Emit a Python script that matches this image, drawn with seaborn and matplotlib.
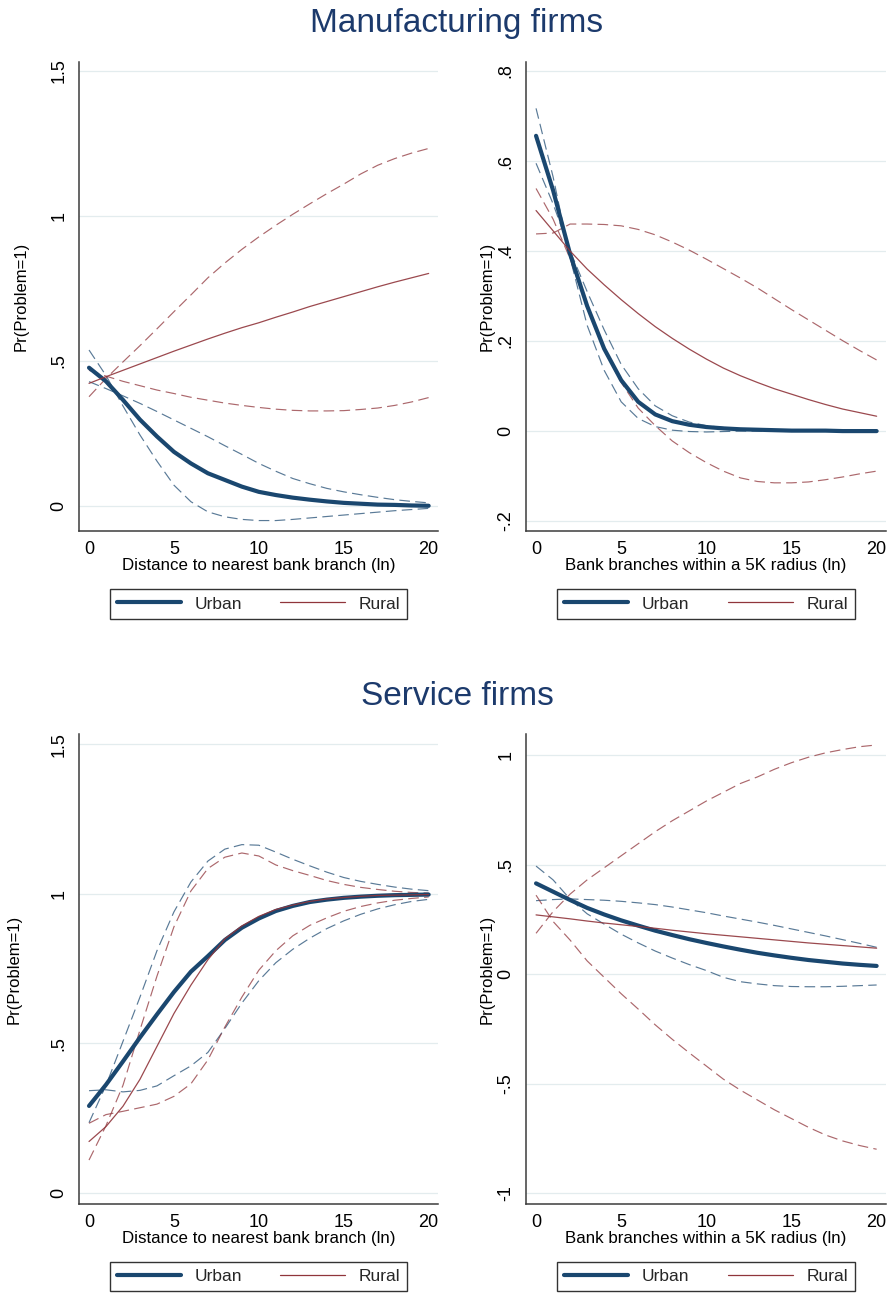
import matplotlib
matplotlib.use("Agg")
import matplotlib.pyplot as plt
from matplotlib.lines import Line2D
import seaborn as sns

# ---- data (x = 0..20) ----
x_vals = list(range(21))

# Manufacturing firms, distance to nearest bank branch
mfg_dist_urban = [0.477, 0.43, 0.366, 0.298, 0.24, 0.187, 0.147, 0.113, 0.09, 0.067, 0.049,
                  0.038, 0.029, 0.022, 0.016, 0.011, 0.008, 0.005, 0.004, 0.002, 0.001]
mfg_dist_urban_ci_a = [0.538, 0.45, 0.345, 0.245, 0.155, 0.072, 0.015, -0.02, -0.037, -0.046, -0.05,
                       -0.05, -0.046, -0.041, -0.036, -0.031, -0.026, -0.021, -0.016, -0.012, -0.008]
mfg_dist_urban_ci_b = [0.429, 0.405, 0.38, 0.354, 0.326, 0.297, 0.268, 0.239, 0.208, 0.178, 0.147,
                       0.12, 0.095, 0.077, 0.061, 0.049, 0.039, 0.03, 0.022, 0.016, 0.011]
mfg_dist_rural = [0.423, 0.446, 0.468, 0.49, 0.512, 0.534, 0.555, 0.576, 0.596, 0.615, 0.632,
                  0.651, 0.669, 0.688, 0.705, 0.722, 0.739, 0.756, 0.772, 0.787, 0.802]
mfg_dist_rural_ci_a = [0.377, 0.44, 0.497, 0.553, 0.611, 0.67, 0.728, 0.787, 0.838, 0.885, 0.928,
                       0.968, 1.006, 1.042, 1.077, 1.11, 1.145, 1.175, 1.198, 1.217, 1.233]
mfg_dist_rural_ci_b = [0.468, 0.448, 0.43, 0.415, 0.4, 0.388, 0.375, 0.365, 0.355, 0.347, 0.34,
                       0.334, 0.33, 0.328, 0.328, 0.329, 0.333, 0.338, 0.347, 0.359, 0.374]

# Manufacturing firms, bank branches within 5K
mfg_br_urban = [0.656, 0.535, 0.393, 0.278, 0.183, 0.113, 0.065, 0.037, 0.022, 0.014, 0.009,
                0.006, 0.004, 0.003, 0.002, 0.001, 0.001, 0.001, 0.0, 0.0, 0.0]
mfg_br_urban_ci_a = [0.717, 0.565, 0.385, 0.235, 0.135, 0.065, 0.028, 0.01, 0.002, -0.001, -0.002,
                     -0.001, 0.0, 0.0, 0.0, 0.0, 0.0, 0.0, 0.0, 0.0, 0.0]
mfg_br_urban_ci_b = [0.595, 0.505, 0.4, 0.31, 0.225, 0.148, 0.094, 0.056, 0.034, 0.02, 0.012,
                     0.008, 0.005, 0.003, 0.002, 0.001, 0.001, 0.001, 0.001, 0.001, 0.001]
mfg_br_rural = [0.49, 0.445, 0.4, 0.36, 0.325, 0.292, 0.261, 0.232, 0.206, 0.182, 0.16,
                0.14, 0.123, 0.108, 0.094, 0.082, 0.07, 0.059, 0.049, 0.041, 0.033]
mfg_br_rural_ci_a = [0.539, 0.471, 0.383, 0.275, 0.18, 0.108, 0.051, 0.012, -0.022, -0.048, -0.07,
                     -0.089, -0.104, -0.112, -0.115, -0.115, -0.113, -0.108, -0.102, -0.095, -0.089]
mfg_br_rural_ci_b = [0.438, 0.44, 0.46, 0.46, 0.459, 0.456, 0.448, 0.436, 0.42, 0.402, 0.382,
                     0.361, 0.34, 0.318, 0.294, 0.27, 0.247, 0.224, 0.201, 0.179, 0.158]

# Service firms, distance to nearest bank branch
srv_dist_urban = [0.291, 0.362, 0.44, 0.52, 0.597, 0.672, 0.74, 0.792, 0.846, 0.887, 0.918,
                  0.943, 0.96, 0.973, 0.981, 0.987, 0.991, 0.994, 0.996, 0.997, 0.998]
srv_dist_urban_ci_a = [0.235, 0.36, 0.507, 0.655, 0.81, 0.94, 1.04, 1.11, 1.15, 1.165, 1.163,
                       1.14, 1.116, 1.094, 1.073, 1.055, 1.042, 1.032, 1.023, 1.016, 1.011]
srv_dist_urban_ci_b = [0.342, 0.345, 0.338, 0.343, 0.358, 0.392, 0.425, 0.47, 0.55, 0.635, 0.71,
                       0.77, 0.815, 0.852, 0.884, 0.91, 0.932, 0.95, 0.964, 0.975, 0.982]
srv_dist_rural = [0.172, 0.222, 0.29, 0.38, 0.49, 0.6, 0.695, 0.78, 0.85, 0.893, 0.925,
                  0.948, 0.963, 0.975, 0.983, 0.988, 0.992, 0.995, 0.996, 0.997, 0.998]
srv_dist_rural_ci_a = [0.11, 0.225, 0.36, 0.545, 0.725, 0.89, 1.01, 1.085, 1.123, 1.137, 1.127,
                       1.097, 1.078, 1.062, 1.045, 1.032, 1.022, 1.015, 1.009, 1.005, 1.003]
srv_dist_rural_ci_b = [0.233, 0.262, 0.273, 0.285, 0.297, 0.323, 0.365, 0.445, 0.555, 0.655, 0.745,
                       0.81, 0.86, 0.895, 0.92, 0.942, 0.958, 0.97, 0.979, 0.985, 0.99]

# Service firms, bank branches within 5K
srv_br_urban = [0.414, 0.376, 0.338, 0.302, 0.272, 0.245, 0.221, 0.198, 0.178, 0.159, 0.142,
                0.126, 0.111, 0.097, 0.085, 0.074, 0.064, 0.056, 0.048, 0.042, 0.037]
srv_br_urban_ci_a = [0.493, 0.43, 0.342, 0.275, 0.228, 0.182, 0.142, 0.105, 0.073, 0.043, 0.016,
                     -0.015, -0.035, -0.045, -0.053, -0.057, -0.058, -0.058, -0.056, -0.053, -0.05]
srv_br_urban_ci_b = [0.335, 0.34, 0.343, 0.34, 0.337, 0.332, 0.325, 0.317, 0.306, 0.293, 0.28,
                     0.265, 0.251, 0.237, 0.222, 0.206, 0.19, 0.174, 0.157, 0.14, 0.122]
srv_br_rural = [0.27, 0.261, 0.252, 0.242, 0.233, 0.225, 0.217, 0.209, 0.2, 0.192, 0.184,
                0.177, 0.17, 0.163, 0.156, 0.149, 0.142, 0.136, 0.13, 0.124, 0.118]
srv_br_rural_ci_a = [0.186, 0.285, 0.365, 0.43, 0.485, 0.54, 0.595, 0.65, 0.7, 0.745, 0.79,
                     0.83, 0.87, 0.9, 0.935, 0.965, 0.99, 1.01, 1.025, 1.038, 1.046]
srv_br_rural_ci_b = [0.36, 0.24, 0.155, 0.06, -0.015, -0.09, -0.16, -0.232, -0.298, -0.36, -0.42,
                     -0.48, -0.53, -0.575, -0.62, -0.66, -0.7, -0.735, -0.762, -0.783, -0.8]

x_ticks = [0, 5, 10, 15, 20]
legend_labels = ["Urban", "Rural"]
ylabel_text = "Pr(Problem=1)"
xlabel_dist = "Distance to nearest bank branch (ln)"
xlabel_branches = "Bank branches within a 5K radius (ln)"

NAVY = "#1a476f"
MAROON = "#90353b"
TITLE_COLOR = "#1c3a6c"
DASH = (0, (9, 4.5))

sns.set_theme(style="white")
plt.rcParams["font.family"] = ["Liberation Sans", "DejaVu Sans"]

W, H = 892, 1293
fig = plt.figure(figsize=(W / 100, H / 100), dpi=100)
fig.patch.set_facecolor("white")


def px_axes(left, top, right, bottom):
    return fig.add_axes([left / W, 1 - bottom / H, (right - left) / W, (bottom - top) / H])


def draw_panel(ax, urban, urban_ci, rural, rural_ci, ylim, yticks, yticklabels,
               xlabel, ylabel_x, legend_box):
    for ci in urban_ci:
        sns.lineplot(x=x_vals, y=ci, ax=ax, color=NAVY, linewidth=0.85,
                     linestyle=DASH, alpha=0.72)
    for ci in rural_ci:
        sns.lineplot(x=x_vals, y=ci, ax=ax, color=MAROON, linewidth=0.85,
                     linestyle=DASH, alpha=0.75)
    sns.lineplot(x=x_vals, y=urban, ax=ax, color=NAVY, linewidth=3.0)
    sns.lineplot(x=x_vals, y=rural, ax=ax, color=MAROON, linewidth=0.9, alpha=0.9)

    ax.set_xlim(-0.59, 20.55)
    ax.set_ylim(*ylim)
    ax.set_xticks(x_ticks)
    ax.set_xticklabels([str(t) for t in x_ticks])
    ax.set_yticks(yticks)
    ax.set_yticklabels(yticklabels, rotation=90, va="center")

    for side in ["top", "right"]:
        ax.spines[side].set_visible(False)
    for side in ["left", "bottom"]:
        ax.spines[side].set_color("#3c3c3c")
        ax.spines[side].set_linewidth(1.1)

    ax.tick_params(axis="both", direction="out", length=5, width=1.0,
                   color="#3c3c3c", labelsize=13, labelcolor="black")
    ax.tick_params(axis="x", pad=2)
    ax.tick_params(axis="y", pad=3.3)
    ax.yaxis.grid(True, color="#e3ecee", linewidth=0.9)
    ax.xaxis.grid(False)
    ax.set_axisbelow(True)

    ax.set_xlabel(xlabel, fontsize=12.2, color="black")
    ax.xaxis.set_label_coords(0.5, -0.057)
    ax.set_ylabel(ylabel_text, fontsize=12, color="black")
    ax.yaxis.set_label_coords(ylabel_x, 0.5)

    handles = [Line2D([], [], color=NAVY, linewidth=3.0),
               Line2D([], [], color=MAROON, linewidth=0.9)]
    x0, y0, x1, y1 = legend_box
    leg = ax.legend(handles, legend_labels, ncol=2, mode="expand", loc="center",
                    bbox_to_anchor=(x0 / W, 1 - y1 / H, (x1 - x0) / W, (y1 - y0) / H),
                    bbox_transform=fig.transFigure, fancybox=False, framealpha=1,
                    edgecolor="#333333", fontsize=12.5, handlelength=3.7,
                    handletextpad=0.8, borderpad=0.4, borderaxespad=0)
    leg.get_frame().set_linewidth(1.0)


ax1 = px_axes(79, 62, 438, 531)
draw_panel(ax1, mfg_dist_urban, [mfg_dist_urban_ci_a, mfg_dist_urban_ci_b],
           mfg_dist_rural, [mfg_dist_rural_ci_a, mfg_dist_rural_ci_b],
           (-0.086, 1.531), [0, 0.5, 1, 1.5], ["0", ".5", "1", "1.5"],
           xlabel_dist, -0.141, (110, 588, 407, 620))

ax2 = px_axes(526, 62, 886, 531)
draw_panel(ax2, mfg_br_urban, [mfg_br_urban_ci_a, mfg_br_urban_ci_b],
           mfg_br_rural, [mfg_br_rural_ci_a, mfg_br_rural_ci_b],
           (-0.222, 0.82), [-0.2, 0, 0.2, 0.4, 0.6, 0.8], ["-.2", "0", ".2", ".4", ".6", ".8"],
           xlabel_branches, -0.0875, (557, 588, 855, 620))

ax3 = px_axes(79, 734, 438, 1204)
draw_panel(ax3, srv_dist_urban, [srv_dist_urban_ci_a, srv_dist_urban_ci_b],
           srv_dist_rural, [srv_dist_rural_ci_a, srv_dist_rural_ci_b],
           (-0.037, 1.535), [0, 0.5, 1, 1.5], ["0", ".5", "1", "1.5"],
           xlabel_dist, -0.159, (110, 1261, 407, 1292))

ax4 = px_axes(526, 734, 886, 1204)
draw_panel(ax4, srv_br_urban, [srv_br_urban_ci_a, srv_br_urban_ci_b],
           srv_br_rural, [srv_br_rural_ci_a, srv_br_rural_ci_b],
           (-1.05, 1.096), [-1, -0.5, 0, 0.5, 1], ["-1", "-.5", "0", ".5", "1"],
           xlabel_branches, -0.0875, (557, 1261, 855, 1292))

fig.text(457 / W, 1 - 32 / H, "Manufacturing firms", ha="center", va="baseline",
         fontsize=24, color=TITLE_COLOR)
fig.text(457 / W, 1 - 705 / H, "Service firms", ha="center", va="baseline",
         fontsize=24, color=TITLE_COLOR)

fig.savefig("out.png", dpi=100, facecolor="white")
plt.close(fig)
